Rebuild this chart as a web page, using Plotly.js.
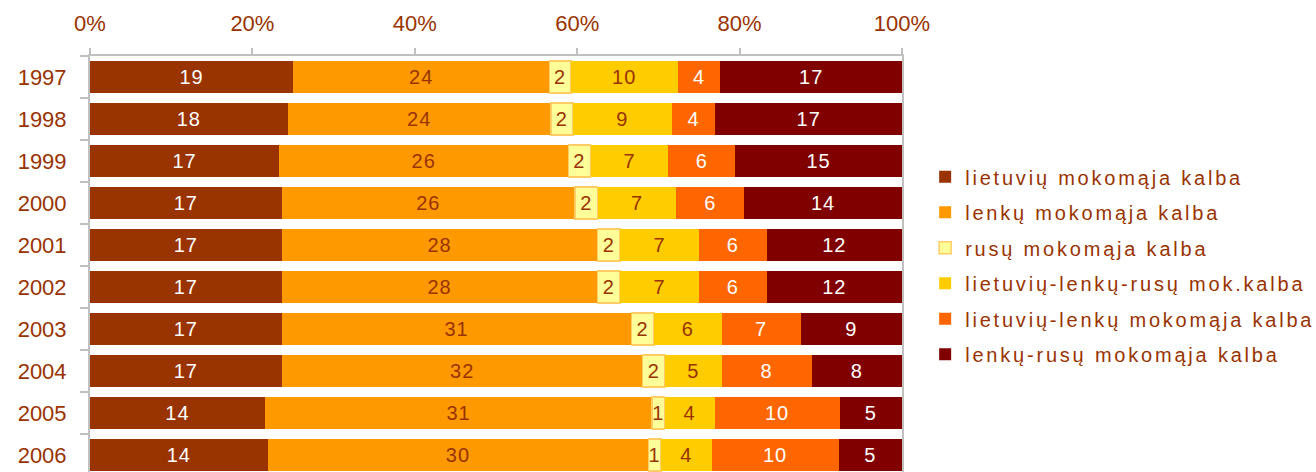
<!DOCTYPE html>
<html>
<head>
<meta charset="utf-8">
<script src="https://cdn.plot.ly/plotly-3.0.1.min.js"></script>
<style>
html,body{margin:0;padding:0;background:#fff;}
#chart{width:1316px;height:472px;}
text.legendtext{letter-spacing:2.8px;}
text.bartext{letter-spacing:1px;}
</style>
</head>
<body>
<div id="chart"></div>
<script>
const years = ['1997','1998','1999','2000','2001','2002','2003','2004','2005','2006'];
const seriesNames = [
  'lietuvių mokomąja kalba',
  'lenkų mokomąja kalba',
  'rusų mokomąja kalba',
  'lietuvių-lenkų-rusų mok.kalba',
  'lietuvių-lenkų mokomąja kalba',
  'lenkų-rusų mokomąja kalba'
];
const lietuviu      = [19,18,17,17,17,17,17,17,14,14];
const lenku         = [24,24,26,26,28,28,31,32,31,30];
const rusu          = [2,2,2,2,2,2,2,2,1,1];
const lietLenkRusu  = [10,9,7,7,7,7,6,5,4,4];
const lietLenku     = [4,4,6,6,6,6,7,8,10,10];
const lenkuRusu     = [17,17,15,14,12,12,9,8,5,5];

const seriesValues = [lietuviu, lenku, rusu, lietLenkRusu, lietLenku, lenkuRusu];
const fillColors = ['#993300','#FF9900','#FFFF99','#FFCC00','#FF6600','#800000'];
const textColors = ['#FFFFFF','#993300','#993300','#993300','#FFFFFF','#FFFFFF'];
const lineColors = ['#993300','#FF9900','#FFCC66','#FFCC00','#FF6600','#800000'];
const lineWidths = [0,0,1.5,0,0,0];

const traces = seriesValues.map((vals, i) => ({
  type: 'bar',
  orientation: 'h',
  name: seriesNames[i],
  legendgroup: 'g' + i,
  y: years,
  x: vals,
  text: vals.map(String),
  textposition: 'inside',
  insidetextanchor: 'middle',
  textangle: 0,
  constraintext: 'none',
  textfont: {family: 'Liberation Sans, Arial, sans-serif', size: 20, color: textColors[i]},
  marker: {color: fillColors[i], line: {color: lineColors[i], width: lineWidths[i]}},
  hoverinfo: 'skip'
}));

const layout = {
  width: 1316,
  height: 472,
  margin: {l: 90, r: 414, t: 56, b: 0},
  paper_bgcolor: '#ffffff',
  plot_bgcolor: '#ffffff',
  barmode: 'stack',
  barnorm: 'percent',
  bargap: 0.24,
  font: {family: 'Liberation Sans, Arial, sans-serif', size: 22, color: '#993300'},
  xaxis: {
    side: 'top',
    range: [0, 100],
    dtick: 20,
    ticksuffix: '%',
    showgrid: false,
    zeroline: false,
    showline: true,
    linecolor: '#C0C0C0',
    linewidth: 2,
    ticks: 'outside',
    ticklen: 6,
    tickwidth: 2,
    tickcolor: '#C0C0C0',
    ticklabelstandoff: 8,
    tickfont: {size: 22, color: '#993300'},
    fixedrange: true
  },
  yaxis: {
    type: 'category',
    categoryorder: 'array',
    categoryarray: years,
    range: [9.405, -0.5],
    autorange: false,
    showgrid: false,
    zeroline: false,
    showline: true,
    mirror: true,
    linecolor: '#C0C0C0',
    linewidth: 2,
    ticks: 'outside',
    tickson: 'boundaries',
    ticklen: 8,
    tickwidth: 2,
    tickcolor: '#C0C0C0',
    ticklabelstandoff: 17,
    tickfont: {size: 22, color: '#993300'},
    fixedrange: true
  },
  showlegend: true,
  legend: {
    xref: 'container',
    yref: 'container',
    x: 0.703,
    xanchor: 'left',
    y: 0.437,
    yanchor: 'middle',
    traceorder: 'grouped',
    tracegroupgap: 6.5,
    font: {size: 20, color: '#993300'},
    bgcolor: 'rgba(0,0,0,0)',
    itemclick: false,
    itemdoubleclick: false
  }
};

Plotly.newPlot('chart', traces, layout, {displayModeBar: false, staticPlot: true});
</script>
</body>
</html>
